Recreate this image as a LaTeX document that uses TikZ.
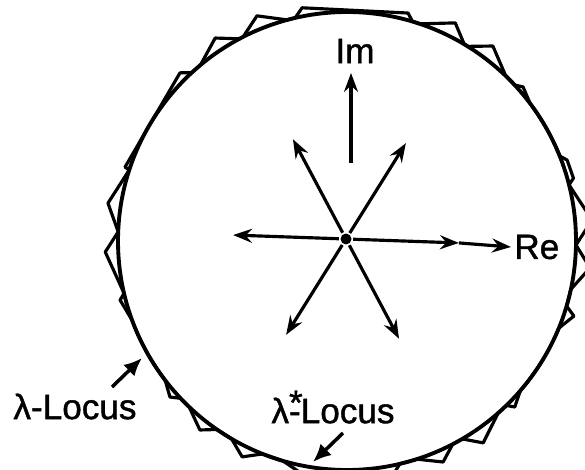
\documentclass[tikz,border=0pt]{standalone}
\usepackage{fontspec}
\setmainfont{Liberation Sans}
\usetikzlibrary{arrows.meta}

\begin{document}
\begin{tikzpicture}[line width=1.8pt,>={Stealth[length=3.8mm,width=2.8mm,inset=1.3mm]},
  ptr/.style={-{Latex[length=3.6mm,width=3.2mm]},line width=2pt},
  lbl/.style={font=\fontsize{20}{24}\selectfont\addfontfeatures{FakeBold=1.2},inner sep=1pt}]
  \useasboundingbox (0,0) rectangle (11.7,9.38);
  \clip (0,0) rectangle (11.7,9.38);
  \def\rLoc{4.58}
  % lambda-locus
  \draw[line width=2.2pt] (6.94,4.56) circle (\rLoc);
  % lambda*-locus, toothed polygon round the circle
  \begin{scope}[shift={(6.94,4.56)},line width=1.8pt,line join=round]
    \draw (103.1:\rLoc) -- (100.9:4.75) -- (75:4.72) -- (73.4:\rLoc)
      -- (71.5:\rLoc) -- (63.6:4.87) -- (59.2:\rLoc)
      -- (58.2:\rLoc) -- (53.2:4.87) -- (46.1:\rLoc)
      -- (42.9:\rLoc) -- (41.2:4.68) -- (36.9:\rLoc)
      arc[start angle=36.9,end angle=21.8,radius=\rLoc]
      -- (20.2:4.69) -- (15.5:4.70) -- (14.2:\rLoc)
      -- (4.9:4.92) -- (-1:\rLoc) -- (-6.3:4.89) -- (-12.2:\rLoc)
      -- (-16.5:\rLoc) -- (-18.3:4.78) -- (-22.4:\rLoc)
      arc[start angle=-22.4,end angle=-40.8,radius=\rLoc]
      -- (-44.7:4.72) -- (-45.9:\rLoc)
      -- (-48.7:\rLoc) -- (-56:4.87) -- (-59.8:\rLoc)
      -- (-62.5:\rLoc) -- (-66.5:4.82) -- (-72.3:\rLoc)
      -- (-76.7:\rLoc) -- (-78.5:4.74) -- (-101:4.74) -- (-106.3:\rLoc)
      -- (-111.6:\rLoc) -- (-115.9:4.80) -- (-120.3:\rLoc)
      -- (-124.6:\rLoc) -- (-127.9:4.79) -- (-133.6:\rLoc)
      -- (-136.6:\rLoc) -- (-138.6:4.72) -- (-142.6:\rLoc)
      arc[start angle=-142.6,end angle=-159.7,radius=\rLoc]
      -- (-165.4:4.69) -- (-166.8:\rLoc)
      -- (-177.4:4.84) -- (-182.3:\rLoc) -- (-189:4.84) -- (-198.1:\rLoc)
      -- (-198.4:4.68) -- (-225.2:4.74) -- (-227.3:\rLoc)
      -- (-230.2:\rLoc) -- (-237:4.84) -- (-242:\rLoc)
      -- (-243:\rLoc) -- (-248.2:4.85) -- (-254.9:\rLoc) -- cycle;
  \end{scope}
  % eigenvalues
  \node[circle,fill,inner sep=0pt,minimum size=0.22cm] (O) at (6.92,4.60) {};
  \foreach \a [count=\i] in {-2,58,118,178,238,298}{
    \path (O.center) ++(\a:2.26) coordinate (e\i);
    \draw[->] (O) -- (e\i);
  }
  % axes
  \node[lbl,anchor=west] (re) at (10.22,4.44) {Re};
  \draw[->] (e1) -- (re.west);
  \node[lbl] (im) at (7.1,8.36) {Im};
  \coordinate (imFoot) at (7.02,6.12);
  \coordinate (imTip) at (7.02,7.92);
  \draw[->] (imFoot) -- (imTip);
  % labels
  \node[lbl] (loc) at (1.5,1.25) {λ-Locus};
  \node[lbl] (locStar) at (6.66,1.24) {λ\rlap{\raisebox{0.24em}{*}}-Locus};
  \coordinate (locTail) at (2.24,1.64);
  \coordinate (locTip) at (2.84,2.22);
  \draw[ptr] (locTail) -- (locTip);
  \coordinate (starTail) at (6.86,0.72);
  \coordinate (starTip) at (6.26,0.14);
  \draw[ptr] (starTail) -- (starTip);
\end{tikzpicture}
\end{document}
